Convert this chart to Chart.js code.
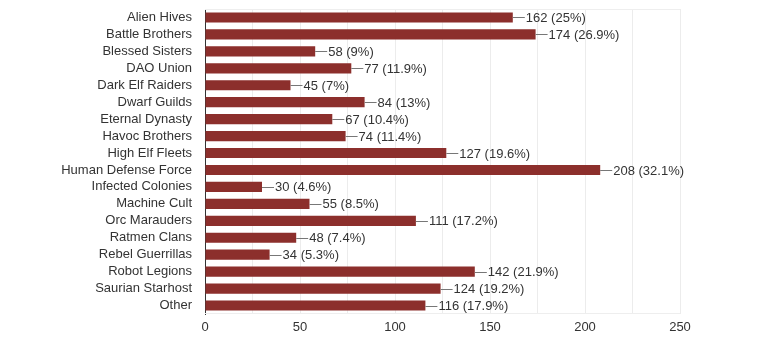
<!DOCTYPE html>
<html><head><meta charset="utf-8">
<script src="https://cdn.jsdelivr.net/npm/chart.js@4"></script>
<style>html,body{margin:0;padding:0;background:#fff}#w{width:761px;height:362px;position:relative}</style>
</head><body><div id="w"><canvas id="c"></canvas></div>
<script>
const categories = ["Alien Hives","Battle Brothers","Blessed Sisters","DAO Union","Dark Elf Raiders","Dwarf Guilds","Eternal Dynasty","Havoc Brothers","High Elf Fleets","Human Defense Force","Infected Colonies","Machine Cult","Orc Marauders","Ratmen Clans","Rebel Guerrillas","Robot Legions","Saurian Starhost","Other"];
const values = [162,174,58,77,45,84,67,74,127,208,30,55,111,48,34,142,124,116];
const percents = ["25%","26.9%","9%","11.9%","7%","13%","10.4%","11.4%","19.6%","32.1%","4.6%","8.5%","17.2%","7.4%","5.3%","21.9%","19.2%","17.9%"];
const xTicks = [0,50,100,150,200,250];

const FONT = "Arial, 'Liberation Sans', sans-serif";
const framePlugin = {
  id: 'frameLines',
  beforeDatasetsDraw(chart) {
    const { ctx, chartArea: a } = chart;
    ctx.save();
    ctx.strokeStyle = '#eeeeee';
    ctx.lineWidth = 1;
    ctx.beginPath();
    ctx.moveTo(a.left, Math.round(a.top) + 0.5); ctx.lineTo(a.right, Math.round(a.top) + 0.5);
    ctx.moveTo(a.left, Math.round(a.bottom) - 0.5); ctx.lineTo(a.right, Math.round(a.bottom) - 0.5);
    ctx.stroke();
    ctx.restore();
  }
};
const labelPlugin = {
  id: 'barLabels',
  afterDatasetsDraw(chart) {
    const ctx = chart.ctx;
    const meta = chart.getDatasetMeta(0);
    ctx.save();
    ctx.font = "13px " + FONT;
    ctx.textBaseline = 'middle';
    ctx.textAlign = 'left';
    meta.data.forEach((bar, i) => {
      const x = bar.x, y = bar.y;
      ctx.strokeStyle = '#777';
      ctx.lineWidth = 1;
      ctx.beginPath();
      ctx.moveTo(x, Math.round(y) + 0.5);
      ctx.lineTo(x + 12, Math.round(y) + 0.5);
      ctx.stroke();
      ctx.fillStyle = '#333';
      ctx.fillText(values[i] + ' (' + percents[i] + ')', x + 13, y + 1);
    });
    ctx.restore();
  }
};

new Chart(document.getElementById('c'), {
  type: 'bar',
  data: { labels: categories, datasets: [{ data: values, backgroundColor: '#8c2f2c', borderWidth: 0, barPercentage: 0.6, categoryPercentage: 1.0 }] },
  options: {
    indexAxis: 'y',
    responsive: true,
    maintainAspectRatio: false,
    animation: false,
    layout: { padding: { top: 9, right: 81, bottom: 0, left: 0 } },
    plugins: { legend: { display: false }, tooltip: { enabled: false } },
    scales: {
      x: {
        min: 0, max: 250,
        afterBuildTicks(s) { s.ticks = []; for (let v = 0; v <= 250; v += 25) s.ticks.push({ value: v }); },
        ticks: {
          autoSkip: false, maxRotation: 0, padding: 6,
          color: '#333', font: { size: 13, family: FONT },
          callback: (v) => xTicks.includes(v) ? String(v) : ''
        },
        grid: { color: '#ececec', drawTicks: false },
        border: { display: false },
        afterFit(s) { s.height = 48; }
      },
      y: {
        ticks: { color: '#333', font: { size: 13, family: FONT }, padding: 13, autoSkip: false },
        grid: { display: false, drawTicks: false },
        border: { display: true, color: '#333', width: 1 },
        afterFit(s) { s.width = 205; s.paddingTop = 0; s.paddingBottom = 0; }
      }
    }
  },
  plugins: [framePlugin, labelPlugin]
});
</script></body></html>
